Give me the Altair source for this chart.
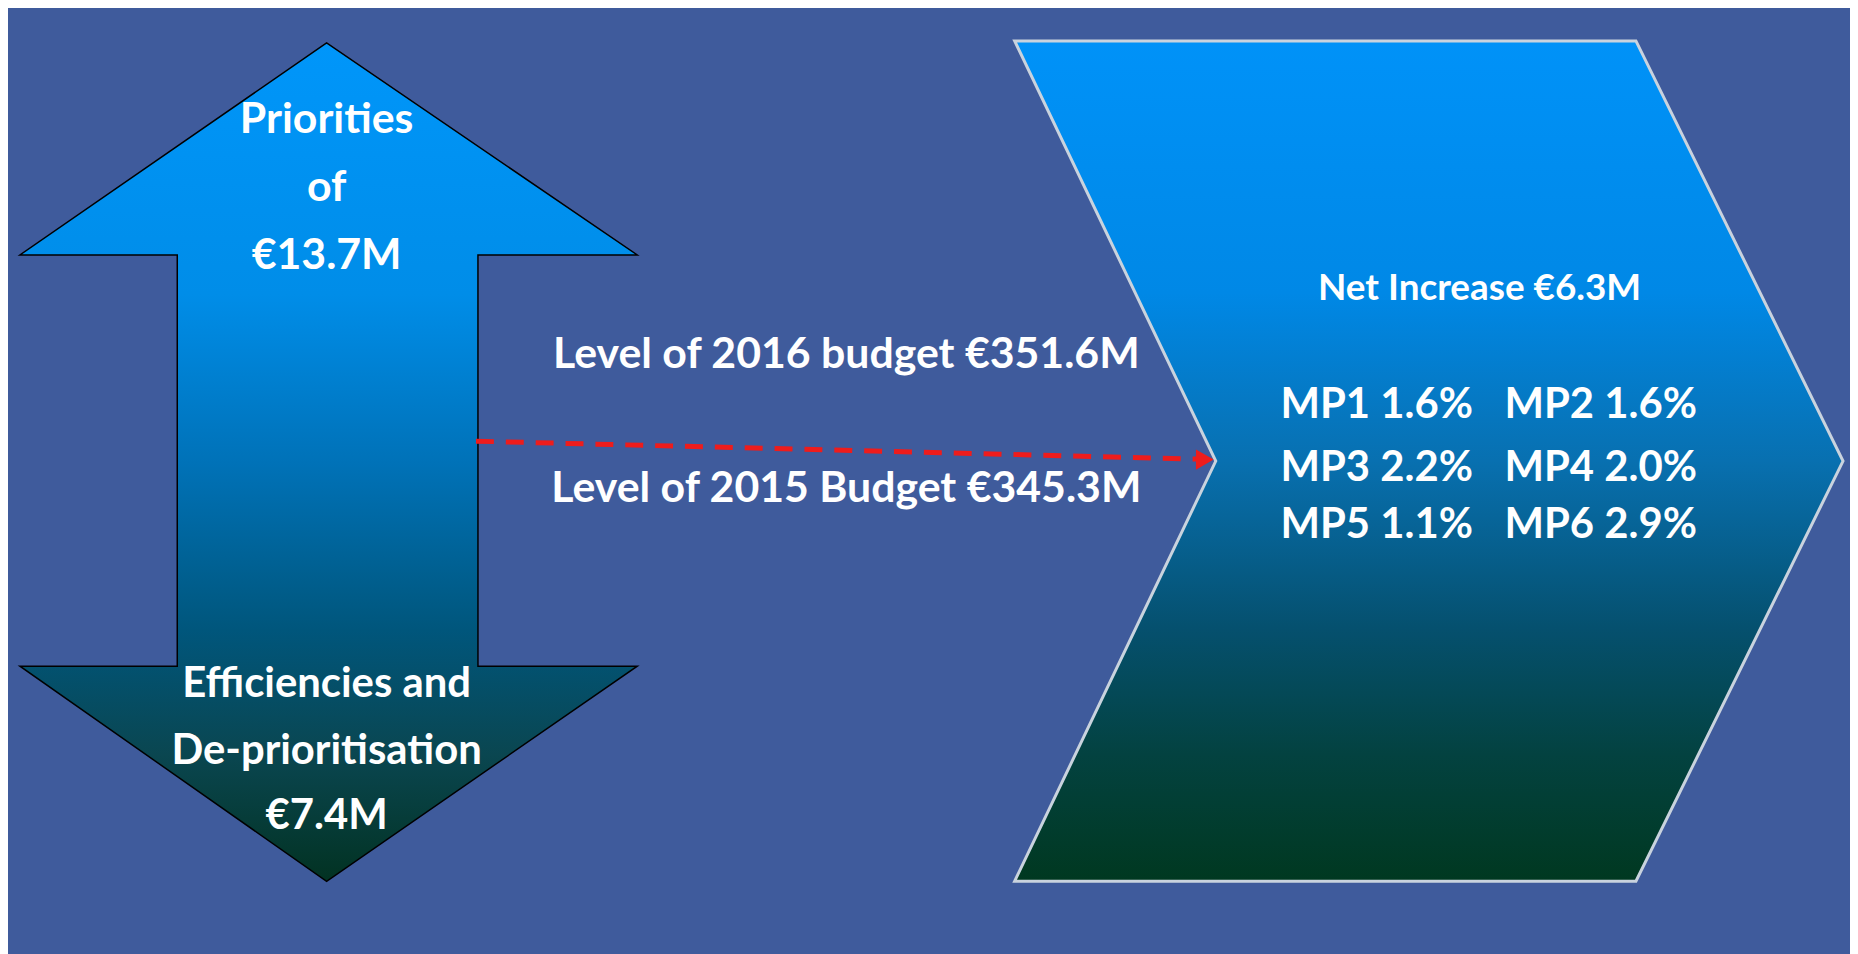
import altair as alt
import pandas as pd

# ---- shapes (page pixel coordinates) ----
arrow_y = [41, 254, 254.01, 667, 667.01, 883]
arrow_xl = [328, 20, 178, 178, 20, 328]
arrow_xr = [328, 640, 480, 480, 640, 328]

chev_y = [39, 461, 883]
chev_xl = [1019, 1221, 1019]
chev_xr = [1643, 1851, 1643]

dash_x = [478, 1203]
dash_y = [441, 459]
head_x = [1210]
head_y = [459.5]

# ---- texts ----
up_text = ["Priorities", "of", "€13.7M"]
up_text_y = [118, 187, 255]
down_text = ["Efficiencies and", "De-prioritisation", "€7.4M"]
down_text_y = [685, 752, 818]
arrow_text_x = 328

level_text = ["Level of 2016 budget €351.6M", "Level of 2015 Budget €345.3M"]
level_text_y = [355, 489]
level_text_x = 850

net_text = ["Net Increase €6.3M"]
net_text_x = [1486]
net_text_y = [288]

mp_labels = ["MP1 1.6%", "MP2 1.6%", "MP3 2.2%", "MP4 2.0%", "MP5 1.1%", "MP6 2.9%"]
mp_x = [1286, 1511, 1286, 1511, 1286, 1511]
mp_y = [405, 405, 468, 468, 525, 525]

W, H = 1850, 946
xs = alt.Scale(domain=[8, 8 + W])
ys = alt.Scale(domain=[8, 8 + H], reverse=True)


def X(f):
    return alt.X(f, type="quantitative", scale=xs, axis=None)


def Y(f):
    return alt.Y(f, type="quantitative", scale=ys, axis=None)


arrow_df = pd.DataFrame({"y": arrow_y, "xl": arrow_xl, "xr": arrow_xr})
chev_df = pd.DataFrame({"y": chev_y, "xl": chev_xl, "xr": chev_xr})

arrow_grad = alt.Gradient(
    gradient="linear",
    stops=[
        alt.GradientStop(offset=0.0, color="#0096fa"),
        alt.GradientStop(offset=0.3, color="#008de8"),
        alt.GradientStop(offset=0.5, color="#0072b8"),
        alt.GradientStop(offset=0.7, color="#00567c"),
        alt.GradientStop(offset=0.85, color="#0a4650"),
        alt.GradientStop(offset=1.0, color="#023222"),
    ],
    x1=0, x2=0, y1=0, y2=1,
)
chev_grad = alt.Gradient(
    gradient="linear",
    stops=[
        alt.GradientStop(offset=0.0, color="#0092f8"),
        alt.GradientStop(offset=0.3, color="#0088e6"),
        alt.GradientStop(offset=0.5, color="#0870b0"),
        alt.GradientStop(offset=0.7, color="#05506e"),
        alt.GradientStop(offset=0.85, color="#034240"),
        alt.GradientStop(offset=1.0, color="#003820"),
    ],
    x1=0, x2=0, y1=0, y2=1,
)

arrow = alt.Chart(arrow_df).mark_area(
    orient="horizontal", fill=arrow_grad, stroke="#000000", strokeWidth=1.5, opacity=1
).encode(y=Y("y"), x=X("xl"), x2="xr")

chev = alt.Chart(chev_df).mark_area(
    orient="horizontal", fill=chev_grad, stroke="#c9d3de", strokeWidth=3, opacity=1
).encode(y=Y("y"), x=X("xl"), x2="xr")

dash = alt.Chart(pd.DataFrame({"x": dash_x, "y": dash_y})).mark_line(
    color="#ee1c1c", strokeWidth=5, strokeDash=[18, 12]
).encode(x=X("x"), y=Y("y"))

head = alt.Chart(pd.DataFrame({"x": head_x, "y": head_y})).mark_point(
    shape="triangle-right", filled=True, color="#ee1c1c", size=420, opacity=1
).encode(x=X("x"), y=Y("y"))

font = "Lato"


def text_layer(labels, xv, yv, size, align="center", weight="bold"):
    df = pd.DataFrame({"t": labels, "x": xv, "y": yv})
    return alt.Chart(df).mark_text(
        font=font, fontWeight=weight, fontSize=size, color="white",
        align=align, baseline="middle"
    ).encode(x=X("x"), y=Y("y"), text="t:N")


t_up = text_layer(up_text, [arrow_text_x] * 3, up_text_y, 43)
t_down = text_layer(down_text, [arrow_text_x] * 3, down_text_y, 42)
t_level = text_layer(level_text, [level_text_x] * 2, level_text_y, 43)
t_net = text_layer(net_text, net_text_x, net_text_y, 37)
t_mp = text_layer(mp_labels, mp_x, mp_y, 42, align="left")

chart = alt.layer(arrow, chev, dash, head, t_up, t_down, t_level, t_net, t_mp).properties(
    width=W, height=H, autosize=alt.AutoSizeParams(type="none"), padding=0,
    background="#3f5b9c",
).configure_view(stroke=None)

chart.save("out.html", embed_options={"renderer": "svg", "actions": False})
